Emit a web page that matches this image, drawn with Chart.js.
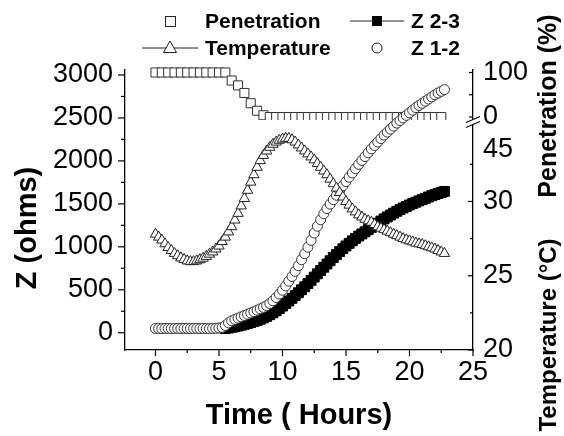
<!DOCTYPE html>
<html><head><meta charset="utf-8">
<script src="https://cdn.jsdelivr.net/npm/chart.js@4"></script>
<style>html,body{margin:0;padding:0;background:#fff;}#wrap{width:564px;height:436px;position:relative;}canvas{display:block;}</style>
</head><body><div id="wrap"><canvas id="c" width="564" height="436"></canvas></div>
<script>
// ---- data ----
const hours = [0,0.25,0.5,0.75,1,1.25,1.5,1.75,2,2.25,2.5,2.75,3,3.25,3.5,3.75,4,4.25,4.5,4.75,5,5.25,5.5,5.75,6,6.25,6.5,6.75,7,7.25,7.5,7.75,8,8.25,8.5,8.75,9,9.25,9.5,9.75,10,10.25,10.5,10.75,11,11.25,11.5,11.75,12,12.25,12.5,12.75,13,13.25,13.5,13.75,14,14.25,14.5,14.75,15,15.25,15.5,15.75,16,16.25,16.5,16.75,17,17.25,17.5,17.75,18,18.25,18.5,18.75,19,19.25,19.5,19.75,20,20.25,20.5,20.75,21,21.25,21.5,21.75,22,22.25,22.5,22.75];
const z12 = [50,50,48,50,50,48,50,50,48,50,50,48,50,50,48,50,50,48,50,52,55,62,
  85,115,140,155,170,185,200,215,230,245,262,278,295,315,340,372,410,450,495,545,
  600,655,715,780,850,920,995,1075,1160,1240,1315,1385,1445,1497,1548,1600,1655,1710,1760,1810,
  1860,1910,1960,2005,2050,2095,2140,2180,2220,2260,2300,2335,2370,2405,2440,2470,2500,2530,2560,2590,
  2620,2645,2670,2695,2720,2745,2770,2790,2810,2830];
const z23 = [null,null,null,null,null,null,null,null,null,null,null,null,null,null,null,null,null,null,null,null,null,null,
  50,55,62,70,78,87,97,107,118,130,143,157,172,190,210,232,256,282,310,340,
  370,400,432,465,500,535,572,610,648,686,724,762,800,838,875,910,945,978,1010,1040,
  1070,1098,1125,1150,1175,1200,1225,1250,1275,1300,1325,1348,1370,1392,1413,1433,1452,1470,1487,1503,
  1519,1535,1550,1565,1580,1595,1608,1621,1633,1645];
const temperature = [27.8,27.6,27.4,27.15,26.9,26.7,26.5,26.35,26.2,26.1,
  26.0,25.95,25.95,26.0,26.08,26.18,26.3,26.45,26.6,26.8,
  27.0,27.3,27.6,27.95,28.3,28.75,29.2,29.7,30.2,30.75,
  31.3,31.8,32.3,32.75,33.1,33.4,33.65,33.85,34.0,34.12,
  34.2,34.25,34.25,34.15,34.0,33.8,33.6,33.4,33.2,33.0,
  32.8,32.55,32.3,32.05,31.8,31.5,31.2,30.9,30.6,30.3,
  30.0,29.75,29.5,29.3,29.1,28.95,28.8,28.7,28.6,28.45,
  28.3,28.2,28.1,28.0,27.9,27.8,27.7,27.6,27.5,27.42,
  27.35,27.28,27.2,27.15,27.1,27.02,26.95,26.88,26.8,26.7,
  26.6,26.5];
const penHours = [0,0.5,1,1.5,2,2.5,3,3.5,4,4.5,5,5.5,6,6.5,7,7.5,8,8.5,9,9.5,10,10.5,11,11.5,12,12.5,13,13.5,14,14.5,15,15.5,16,16.5,17,17.5,18,18.5,19,19.5,20,20.5,21,21.5,22,22.5];
const penetration = [100,100,100,100,100,100,100,100,100,100,100,100,82,71,54,31,14,4,0,0,0,0,0,0,0,0,0,0,0,0,0,0,0,0,0,0,0,0,0,0,0,0,0,0,0,0];

// ticks
const timeTicks = [0,5,10,15,20,25];
const timeMinor = [2.5,7.5,12.5,17.5,22.5];
const zTicks = [0,500,1000,1500,2000,2500,3000];
const zMinor = [250,750,1250,1750,2250,2750];
const penTicks = [0,50,100];
const penLabels = ['0','','100'];
const tempTicks = [20,25,30,33.47];
const tempLabels = ['20','25','30','45'];
const tempMinor = [22.5,27.5,32.5];

const FONT = "'Liberation Sans', Arial, sans-serif";
const pts = (xs, ys) => xs.map((x, i) => ({x: x, y: ys[i]}));

const overlay = {
  id: 'overlay',
  afterDraw(chart) {
    const ctx = chart.ctx;
    const s = chart.scales;
    const area = chart.chartArea;
    ctx.save();
    ctx.strokeStyle = '#000';
    ctx.lineWidth = 1.2;
    const hTick = (y, x0, x1) => { ctx.beginPath(); ctx.moveTo(x0, y); ctx.lineTo(x1, y); ctx.stroke(); };
    const vTick = (x, y0, y1) => { ctx.beginPath(); ctx.moveTo(x, y0); ctx.lineTo(x, y1); ctx.stroke(); };
    zTicks.forEach(v => hTick(s.y.getPixelForValue(v), area.left - 7, area.left));
    zMinor.forEach(v => hTick(s.y.getPixelForValue(v), area.left - 4, area.left));
    timeTicks.forEach(v => vTick(s.x.getPixelForValue(v), area.bottom, area.bottom + 6));
    timeMinor.forEach(v => vTick(s.x.getPixelForValue(v), area.bottom, area.bottom + 3));
    penTicks.forEach(v => hTick(s.yPen.getPixelForValue(v), area.right - 4, area.right));
    tempTicks.slice(0, 3).forEach(v => hTick(s.yTemp.getPixelForValue(v), area.right - 5, area.right));
    tempMinor.forEach(v => hTick(s.yTemp.getPixelForValue(v), area.right - 3, area.right));
    // axis break
    const by = s.yTemp.top;
    ctx.fillStyle = '#fff';
    ctx.fillRect(area.right - 3, by - 3, 6, 6);
    ctx.lineWidth = 1.2;
    [-2.5, 2.5].forEach(d => {
      ctx.beginPath();
      ctx.moveTo(area.right - 7, by + d + 3);
      ctx.lineTo(area.right + 7, by + d - 3);
      ctx.stroke();
    });
    // titles
    ctx.fillStyle = '#000';
    ctx.textAlign = 'center';
    ctx.textBaseline = 'middle';
    const vText = (t, x, y, size) => {
      ctx.save(); ctx.translate(x, y); ctx.rotate(-Math.PI / 2);
      ctx.font = 'bold ' + size + 'px ' + FONT; ctx.fillText(t, 0, 0); ctx.restore();
    };
    vText('Z (ohms)', 28, 228, 29);
    vText('Penetration (%)', 549, 106, 25);
    vText('Temperature (°C)', 549, 335, 24);
    // legend
    ctx.font = 'bold 21px ' + FONT;
    ctx.textAlign = 'left';
    const r1 = 21, r2 = 48;
    ctx.lineWidth = 1;
    ctx.strokeStyle = '#222';
    ctx.fillStyle = '#fff';
    ctx.fillRect(165, r1 - 5, 10, 10); ctx.strokeRect(165.5, r1 - 4.5, 10, 10);
    ctx.beginPath(); ctx.moveTo(350, r1); ctx.lineTo(404, r1); ctx.stroke();
    ctx.fillStyle = '#000'; ctx.fillRect(372, r1 - 5, 10, 10);
    ctx.beginPath(); ctx.moveTo(142, r2); ctx.lineTo(198, r2); ctx.stroke();
    ctx.fillStyle = '#fff';
    ctx.beginPath(); ctx.moveTo(170, r2 - 7); ctx.lineTo(176.5, r2 + 4.5); ctx.lineTo(163.5, r2 + 4.5); ctx.closePath(); ctx.fill(); ctx.stroke();
    ctx.beginPath(); ctx.arc(377, r2, 5, 0, Math.PI * 2); ctx.fill(); ctx.stroke();
    ctx.fillStyle = '#000';
    ctx.fillText('Penetration', 205, r1 + 1);
    ctx.fillText('Z 2-3', 411, r1 + 1);
    ctx.fillText('Temperature', 205, r2 + 1);
    ctx.fillText('Z 1-2', 411, r2 + 1);
    ctx.restore();
  }
};

const tickFont = {family: FONT, size: 27};
const noGrid = {display: false, drawTicks: false};
const border = {display: true, color: '#000', width: 1.3};

new Chart(document.getElementById('c'), {
  type: 'scatter',
  data: {
    datasets: [
      {label: 'Temperature', data: pts(hours, temperature), yAxisID: 'yTemp', showLine: true,
       borderColor: '#000', borderWidth: 1, pointStyle: 'triangle', pointRadius: 6,
       pointBackgroundColor: '#fff', pointBorderColor: '#222', pointBorderWidth: 1},
      {label: 'Z 1-2', data: pts(hours, z12), yAxisID: 'y', showLine: false,
       pointStyle: 'circle', pointRadius: 5, pointBackgroundColor: '#fff', pointBorderColor: '#333', pointBorderWidth: 1},
      {label: 'Z 2-3', data: pts(hours, z23), yAxisID: 'y', showLine: true,
       borderColor: '#000', borderWidth: 1, pointStyle: 'rect', pointRadius: 7,
       pointBackgroundColor: '#000', pointBorderColor: '#000', pointBorderWidth: 1},
      {label: 'Penetration', data: pts(penHours, penetration), yAxisID: 'yPen', showLine: false,
       pointStyle: 'rect', pointRadius: 6.4, pointBackgroundColor: '#fff', pointBorderColor: '#333', pointBorderWidth: 1,
       clip: {left: 10, top: 10, right: 10, bottom: -2}}
    ]
  },
  options: {
    responsive: false, animation: false, devicePixelRatio: 1,
    layout: {padding: {top: 70, left: 0, right: 0, bottom: 0}},
    plugins: {legend: {display: false}, tooltip: {enabled: false}},
    scales: {
      x: {type: 'linear', position: 'bottom', min: -2.4, max: 25,
        afterBuildTicks: sc => { sc.ticks = timeTicks.map(v => ({value: v})); },
        afterFit: sc => { sc.height = 86; },
        ticks: {font: tickFont, color: '#000', padding: 6, autoSkip: false, maxRotation: 0,
          callback: v => String(v)},
        grid: noGrid, border: border,
        title: {display: true, text: 'Time ( Hours)', color: '#000',
          font: {family: FONT, size: 29, weight: 'bold'}, padding: {top: 0, bottom: 3}}},
      y: {type: 'linear', position: 'left', min: -201, max: 3058,
        afterBuildTicks: sc => { sc.ticks = zTicks.map(v => ({value: v})); },
        afterFit: sc => { sc.width = 125; },
        ticks: {font: tickFont, color: '#000', padding: 12, autoSkip: false, callback: v => String(v)},
        grid: noGrid, border: border},
      yPen: {type: 'linear', position: 'right', stack: 'right', stackWeight: 52, min: -11.2, max: 105.6,
        afterBuildTicks: sc => { sc.ticks = penTicks.map(v => ({value: v})); },
        afterFit: sc => { sc.width = 91; },
        ticks: {font: tickFont, color: '#000', padding: 10, autoSkip: false,
          callback: v => penLabels[penTicks.indexOf(v)]},
        grid: noGrid, border: border},
      yTemp: {type: 'linear', position: 'right', stack: 'right', stackWeight: 228, min: 20, max: 35.35,
        afterBuildTicks: sc => { sc.ticks = tempTicks.map(v => ({value: v})); },
        afterFit: sc => { sc.width = 91; },
        ticks: {font: tickFont, color: '#000', padding: 10, autoSkip: false,
          callback: v => tempLabels[tempTicks.indexOf(v)]},
        grid: noGrid, border: border}
    }
  },
  plugins: [overlay]
});
</script></body></html>
